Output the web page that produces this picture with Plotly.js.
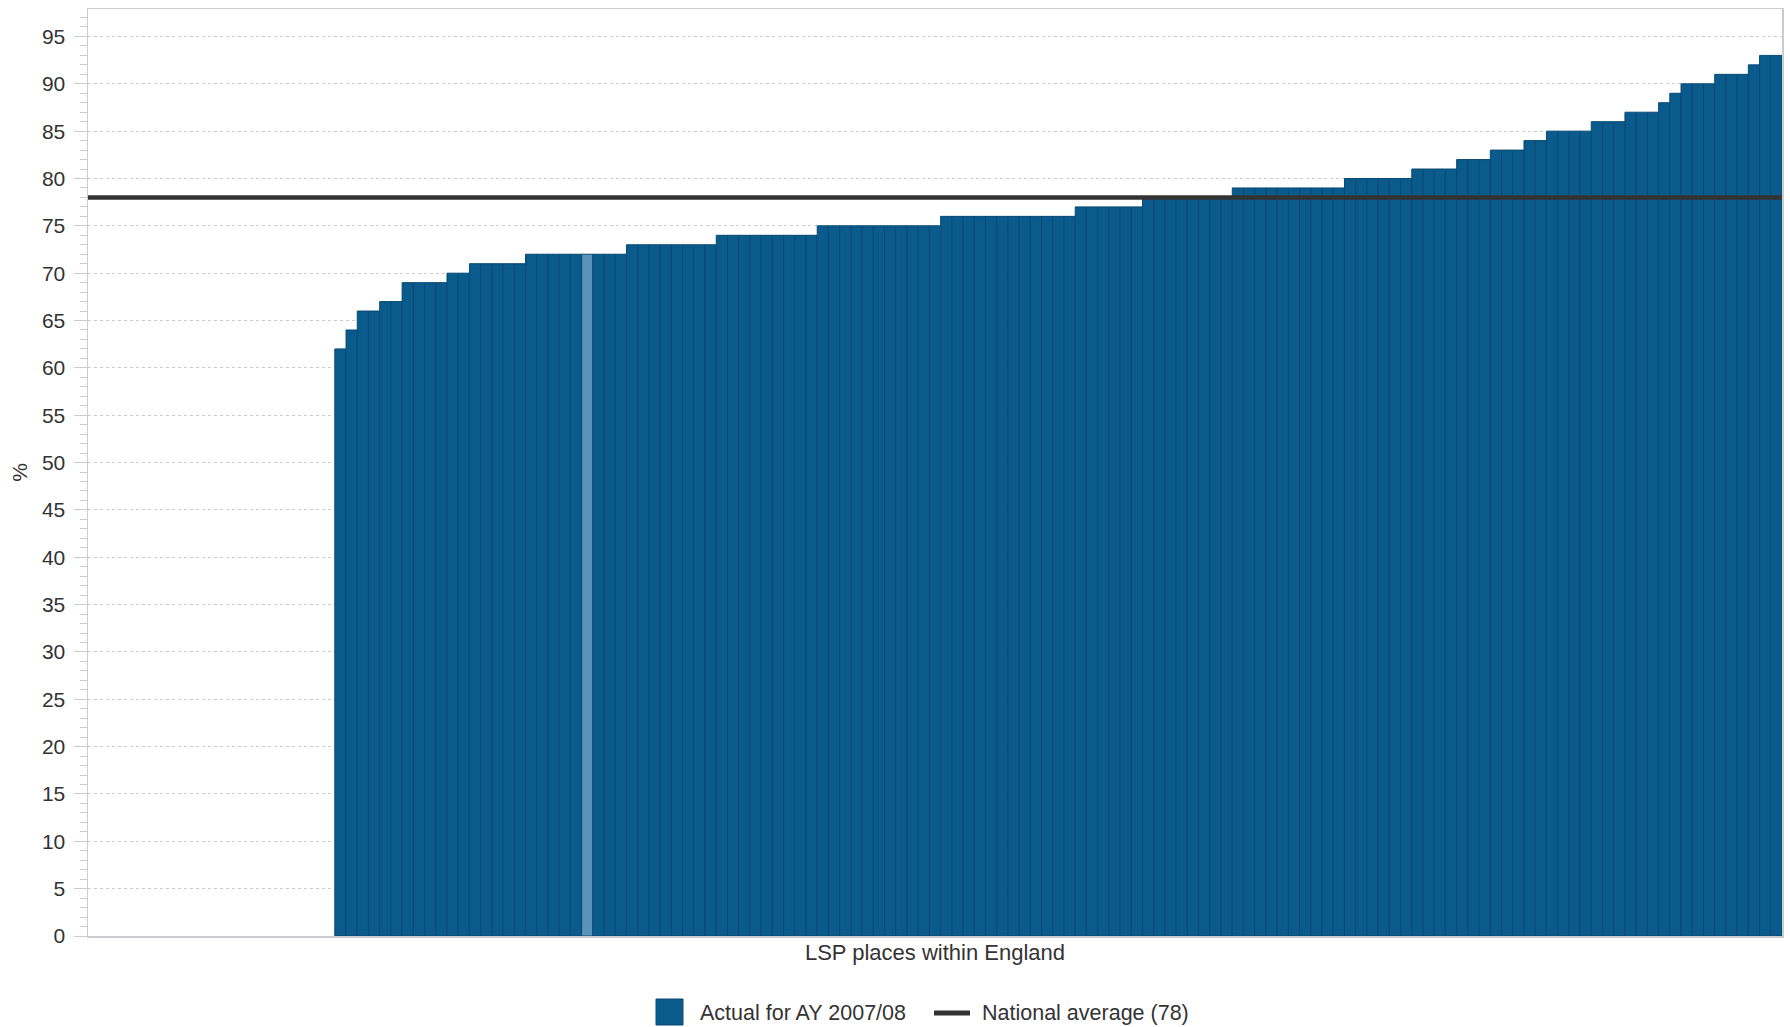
<!DOCTYPE html>
<html>
<head>
<meta charset="utf-8">
<script src="https://cdn.plot.ly/plotly-3.0.1.min.js"></script>
<style>
  html, body { margin: 0; padding: 0; background: #ffffff; }
  #chart { width: 1790px; height: 1027px; }
</style>
</head>
<body>
<div id="chart"></div>
<script>
// LSP places within England, sorted ascending; the first 22 places have no data (null)
const placeValues = [
  null, null, null, null, null, null, null, null, null, null, null,
  null, null, null, null, null, null, null, null, null, null, null,
  62, 64, 66, 66, 67, 67, 69, 69, 69, 69, 70, 70,
  71, 71, 71, 71, 71,
  72, 72, 72, 72, 72, 72, 72, 72, 72,
  73, 73, 73, 73, 73, 73, 73, 73,
  74, 74, 74, 74, 74, 74, 74, 74, 74,
  75, 75, 75, 75, 75, 75, 75, 75, 75, 75, 75,
  76, 76, 76, 76, 76, 76, 76, 76, 76, 76, 76, 76,
  77, 77, 77, 77, 77, 77,
  78, 78, 78, 78, 78, 78, 78, 78,
  79, 79, 79, 79, 79, 79, 79, 79, 79, 79,
  80, 80, 80, 80, 80, 80,
  81, 81, 81, 81,
  82, 82, 82,
  83, 83, 83,
  84, 84,
  85, 85, 85, 85,
  86, 86, 86,
  87, 87, 87,
  88, 89,
  90, 90, 90,
  91, 91, 91,
  92,
  93, 93
];
// position (0-based) of the highlighted place in the list above
const highlightedPlace = 44;
const nationalAverage = 78;
const seriesName = "Actual for AY 2007/08";
const averageName = "National average (" + nationalAverage + ")";
const xTitle = "LSP places within England";
const yTitle = "%";
const yTickValues = [0, 5, 10, 15, 20, 25, 30, 35, 40, 45, 50, 55, 60, 65, 70, 75, 80, 85, 90, 95];

const placePositions = placeValues.map((v, i) => i);
const barColor = "#0a5a8c";
const barLineColor = "#084a74";
const highlightColor = "#5a93b7";
const avgColor = "#333333";
const barColors = placeValues.map((v, i) => i === highlightedPlace ? highlightColor : barColor);
const xRange = [-0.5, placeValues.length - 0.5];

const traces = [
  {
    type: "bar",
    name: seriesName,
    showlegend: false,
    x: placePositions,
    y: placeValues,
    marker: { color: barColors, line: { color: barLineColor, width: 1 } },
    hoverinfo: "y"
  },
  {
    type: "scatter",
    mode: "lines",
    name: averageName,
    showlegend: false,
    x: xRange,
    y: [nationalAverage, nationalAverage],
    line: { color: avgColor, width: 4.5 },
    hoverinfo: "name"
  }
];

// Legend drawn below the plot (paper coordinates)
const W = 1790, H = 1027, mL = 88, mR = 8, mT = 9, mB = 91;
const pw = W - mL - mR, ph = H - mT - mB;
const px = v => (v - mL) / pw;           // pixel x -> paper x
const py = v => (H - mB - v) / ph;       // pixel y -> paper y
const legendY = 1012;

const shapes = [
  { type: "rect", xref: "paper", yref: "paper",
    x0: px(656), x1: px(683), y0: py(legendY - 13), y1: py(legendY + 13),
    fillcolor: barColor, line: { color: barLineColor, width: 1 } },
  { type: "line", xref: "paper", yref: "paper",
    x0: px(934), x1: px(970), y0: py(legendY + 1), y1: py(legendY + 1),
    line: { color: avgColor, width: 5 } }
];
const annotations = [
  { xref: "paper", yref: "paper", x: px(698), y: py(legendY + 1), xanchor: "left", yanchor: "middle",
    text: seriesName, showarrow: false, font: { size: 21.5, color: "#333333" } },
  { xref: "paper", yref: "paper", x: px(980), y: py(legendY + 1), xanchor: "left", yanchor: "middle",
    text: averageName, showarrow: false, font: { size: 21.5, color: "#333333" } }
];

const gridColor = "#c9cdd1";
const layout = {
  width: W,
  height: H,
  paper_bgcolor: "#ffffff",
  plot_bgcolor: "#ffffff",
  font: { family: "Liberation Sans, Arial, sans-serif", size: 21, color: "#333333" },
  margin: { l: mL, r: mR, t: mT, b: mB },
  bargap: 0,
  showlegend: false,
  shapes: shapes,
  annotations: annotations,
  xaxis: {
    type: "linear",
    range: xRange,
    showticklabels: false,
    ticks: "",
    showgrid: false,
    zeroline: false,
    showline: true,
    linecolor: gridColor,
    linewidth: 1.5,
    mirror: true,
    title: { text: xTitle, font: { size: 22, color: "#333333" }, standoff: 8 }
  },
  yaxis: {
    range: [0, 97.9],
    tickvals: yTickValues,
    ticks: "outside",
    ticklen: 13,
    tickcolor: gridColor,
    tickwidth: 1,
    ticklabelstandoff: 4,
    tickfont: { size: 21, color: "#333333" },
    showgrid: true,
    gridcolor: gridColor,
    griddash: "dot",
    gridwidth: 1,
    zeroline: false,
    showline: true,
    linecolor: gridColor,
    linewidth: 1.5,
    mirror: true,
    minor: { dtick: 1, ticks: "outside", ticklen: 7, tickcolor: gridColor, tickwidth: 1, showgrid: false },
    title: { text: yTitle, font: { size: 21, color: "#333333" }, standoff: 8 }
  }
};

Plotly.newPlot("chart", traces, layout, { displayModeBar: false, staticPlot: true });
</script>
</body>
</html>
